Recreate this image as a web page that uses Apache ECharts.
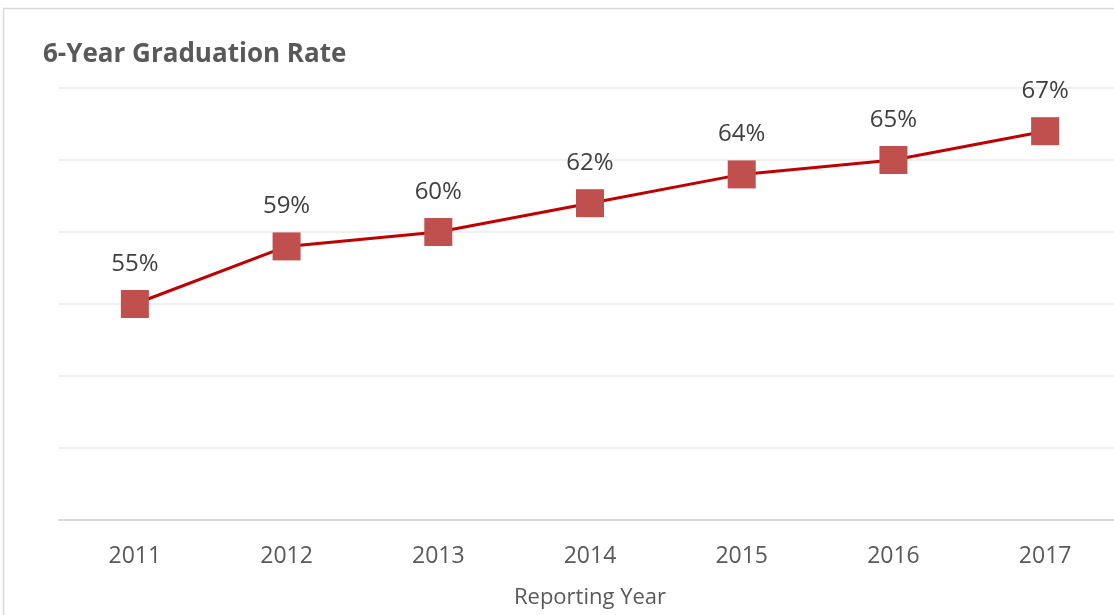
<!DOCTYPE html>
<html><head><meta charset="utf-8">
<script src="https://cdn.jsdelivr.net/npm/echarts@6/dist/echarts.min.js"></script>
<style>html,body{margin:0;padding:0;background:#fff}#c{width:1114px;height:615px}</style>
</head><body><div id="c"></div>
<script>
const categories = ['2011','2012','2013','2014','2015','2016','2017'];
const rates = [55, 59, 60, 62, 64, 65, 67];
const yTicks = [40, 45, 50, 55, 60, 65, 70];

const chart = echarts.init(document.getElementById('c'));
const font = '"Open Sans", "Liberation Sans", sans-serif';
chart.setOption({
  animation: false,
  graphic: [{
    type: 'rect', shape: {x: 3.5, y: 8.5, width: 1200, height: 700},
    style: {fill: 'none', stroke: '#d9d9d9', lineWidth: 1.5}, silent: true
  }],
  title: {
    text: '6-Year Graduation Rate', left: 38, top: 37,
    textStyle: {fontFamily: font, fontSize: 26, fontWeight: 'bold', color: '#595959'}
  },
  grid: {left: 59, top: 88, width: 1062, height: 432, outerBoundsMode: 'none', containLabel: false},
  xAxis: {
    type: 'category', data: categories, boundaryGap: true,
    axisLine: {lineStyle: {color: '#d9d9d9', width: 2}},
    axisTick: {show: false},
    axisLabel: {fontFamily: font, fontSize: 23, color: '#595959', margin: 25},
    name: 'Reporting Year', nameLocation: 'middle', nameGap: 67,
    nameTextStyle: {fontFamily: font, fontSize: 22, color: '#595959'}
  },
  yAxis: {
    type: 'value', min: yTicks[0], max: yTicks[yTicks.length - 1], interval: 5,
    axisLabel: {show: false}, axisLine: {show: false}, axisTick: {show: false},
    splitLine: {lineStyle: {color: '#ebebeb', width: 1.5}}
  },
  series: [{
    type: 'line', data: rates,
    symbol: 'rect', symbolSize: 28,
    itemStyle: {color: '#C0504D'},
    lineStyle: {color: '#C00000', width: 3},
    label: {
      show: true, position: 'top', distance: 14,
      formatter: p => p.value + '%',
      fontFamily: font, fontSize: 24, color: '#404040'
    }
  }]
});
</script></body></html>
